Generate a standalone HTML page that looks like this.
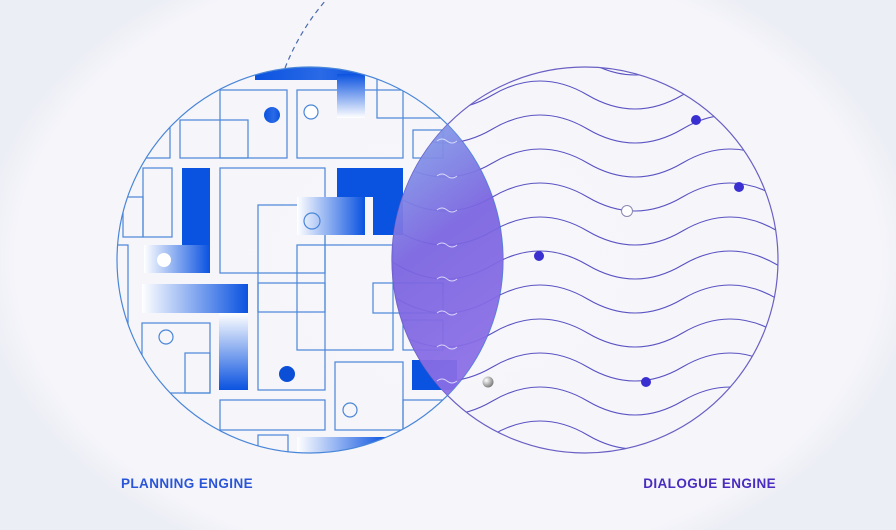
<!DOCTYPE html>
<html><head><meta charset="utf-8"><style>
html,body{margin:0;padding:0;}
body{width:896px;height:530px;overflow:hidden;background:radial-gradient(ellipse 470px 330px at 448px 260px,#f7f7fb 0%,#f5f5fa 92%,#eceef5 100%);font-family:"Liberation Sans",sans-serif;position:relative;}
.lbl{position:absolute;top:476px;font-weight:bold;font-size:13.5px;letter-spacing:0.4px;}
</style></head><body>
<svg width="896" height="530" style="position:absolute;left:0;top:0">
<defs>
<clipPath id="cl"><circle cx="310" cy="260" r="193"/></clipPath>
<clipPath id="cr"><circle cx="585" cy="260" r="193"/></clipPath>
<linearGradient id="gh" x1="0" y1="0" x2="1" y2="0"><stop offset="0" stop-color="#fff"/><stop offset="1" stop-color="#0a52e0"/></linearGradient>
<linearGradient id="gv" x1="0" y1="0" x2="0" y2="1"><stop offset="0" stop-color="#fff"/><stop offset="1" stop-color="#0a52e0"/></linearGradient>
<linearGradient id="gs" x1="0" y1="0" x2="1" y2="0"><stop offset="0" stop-color="#0a52e0"/><stop offset="0.6" stop-color="#2a6ae6"/><stop offset="1" stop-color="#0a52e0"/></linearGradient>
<linearGradient id="lens" x1="0" y1="0" x2="0.3" y2="1"><stop offset="0" stop-color="#86aaea"/><stop offset="0.5" stop-color="#7a64e0"/><stop offset="1" stop-color="#8a6ee6"/></linearGradient>
<radialGradient id="ball" cx="0.35" cy="0.35" r="0.7"><stop offset="0" stop-color="#fff"/><stop offset="1" stop-color="#777"/></radialGradient>
</defs>
<path d="M285 68 Q300 30 326 0" fill="none" stroke="#4a6ab0" stroke-width="1.2" stroke-dasharray="5 4"/>
<g clip-path="url(#cl)" fill="none" stroke="#4a86d8" stroke-width="1.2">
<rect x="180" y="120" width="68" height="38"/>
<rect x="220" y="90" width="67" height="68"/>
<rect x="297" y="90" width="106" height="68"/>
<rect x="377" y="77" width="66" height="41"/>
<rect x="220" y="168" width="105" height="105"/>
<rect x="258" y="205" width="67" height="107"/>
<rect x="297" y="245" width="96" height="105"/>
<rect x="258" y="283" width="67" height="107"/>
<rect x="142" y="323" width="68" height="70"/>
<rect x="185" y="353" width="25" height="40"/>
<rect x="220" y="400" width="105" height="30"/>
<rect x="335" y="362" width="68" height="68"/>
<rect x="143" y="168" width="29" height="69"/>
<rect x="123" y="197" width="20" height="40"/>
<rect x="373" y="283" width="70" height="30"/>
<rect x="413" y="130" width="30" height="28"/>
<rect x="108" y="128" width="62" height="30"/>
<rect x="100" y="410" width="80" height="40"/>
<rect x="258" y="435" width="30" height="30"/>
<rect x="403" y="320" width="40" height="30"/>
<rect x="403" y="400" width="60" height="30"/>
<rect x="108" y="245" width="20" height="80"/>
<g stroke="none">
<rect x="255" y="62" width="110" height="18" fill="url(#gs)"/>
<rect x="337" y="74" width="28" height="44" fill="url(#gv)" transform="rotate(180 351 96)"/>
<rect x="182" y="168" width="28" height="105" fill="#0a52e0"/>
<rect x="144" y="245" width="66" height="28" fill="url(#gh)"/>
<rect x="337" y="168" width="66" height="67" fill="#0a52e0"/>
<rect x="297" y="197" width="68" height="38" fill="url(#gh)"/>
<rect x="365" y="197" width="8" height="38" fill="#f5f5fa"/>
<rect x="142" y="284" width="106" height="29" fill="url(#gh)"/>
<rect x="219" y="313" width="29" height="77" fill="url(#gv)"/>
<rect x="412" y="360" width="45" height="30" fill="#0a52e0"/>
<rect x="297" y="437" width="90" height="20" fill="url(#gh)"/>
</g>
</g>
<circle cx="310" cy="260" r="193" fill="none" stroke="#4a86d8" stroke-width="1.2"/>
<circle cx="272" cy="115" r="8" fill="url(#gs)"/>
<circle cx="311" cy="112" r="7" fill="#fff" stroke="#4a86d8" stroke-width="1.2"/>
<circle cx="164" cy="260" r="7" fill="#fff"/>
<circle cx="312" cy="221" r="8" fill="none" stroke="#4a86d8" stroke-width="1.2"/>
<circle cx="166" cy="337" r="7" fill="none" stroke="#4a86d8" stroke-width="1.2"/>
<circle cx="287" cy="374" r="8" fill="#0a4fd6"/>
<circle cx="350" cy="410" r="7" fill="none" stroke="#4a86d8" stroke-width="1.2"/>
<g clip-path="url(#cr)" fill="none" stroke="#5a52c2" stroke-width="1.1">
<path d="M302.5 61 Q350 33 397.5 61 T492.5 61 T587.5 61 T682.5 61 T777.5 61 T872.5 61"/>
<path d="M302.5 95 Q350 67 397.5 95 T492.5 95 T587.5 95 T682.5 95 T777.5 95 T872.5 95"/>
<path d="M302.5 129 Q350 101 397.5 129 T492.5 129 T587.5 129 T682.5 129 T777.5 129 T872.5 129"/>
<path d="M302.5 163 Q350 135 397.5 163 T492.5 163 T587.5 163 T682.5 163 T777.5 163 T872.5 163"/>
<path d="M302.5 197 Q350 169 397.5 197 T492.5 197 T587.5 197 T682.5 197 T777.5 197 T872.5 197"/>
<path d="M302.5 231 Q350 203 397.5 231 T492.5 231 T587.5 231 T682.5 231 T777.5 231 T872.5 231"/>
<path d="M302.5 265 Q350 237 397.5 265 T492.5 265 T587.5 265 T682.5 265 T777.5 265 T872.5 265"/>
<path d="M302.5 299 Q350 271 397.5 299 T492.5 299 T587.5 299 T682.5 299 T777.5 299 T872.5 299"/>
<path d="M302.5 333 Q350 305 397.5 333 T492.5 333 T587.5 333 T682.5 333 T777.5 333 T872.5 333"/>
<path d="M302.5 367 Q350 339 397.5 367 T492.5 367 T587.5 367 T682.5 367 T777.5 367 T872.5 367"/>
<path d="M302.5 401 Q350 373 397.5 401 T492.5 401 T587.5 401 T682.5 401 T777.5 401 T872.5 401"/>
<path d="M302.5 435 Q350 407 397.5 435 T492.5 435 T587.5 435 T682.5 435 T777.5 435 T872.5 435"/>
</g>
<circle cx="585" cy="260" r="193" fill="none" stroke="#6a60c4" stroke-width="1.2"/>
<path d="M447.5 124.6 A193 193 0 0 1 447.5 395.4 A193 193 0 0 1 447.5 124.6 Z" fill="url(#lens)" opacity="0.94"/>
<g fill="none" stroke="#e8e8ff" stroke-width="1" opacity="0.85">
<path d="M437 141 q5 -4 10 0 t10 0"/><path d="M437 176 q5 -4 10 0 t10 0"/>
<path d="M437 210 q5 -4 10 0 t10 0"/><path d="M437 245 q5 -4 10 0 t10 0"/>
<path d="M437 279 q5 -4 10 0 t10 0"/><path d="M437 313 q5 -4 10 0 t10 0"/>
<path d="M437 347 q5 -4 10 0 t10 0"/><path d="M437 381 q5 -4 10 0 t10 0"/>
</g>
<circle cx="696" cy="120" r="5" fill="#3a2fd0"/>
<circle cx="739" cy="187" r="5" fill="#3a2fd0"/>
<circle cx="539" cy="256" r="5" fill="#3a2fd0"/>
<circle cx="646" cy="382" r="5" fill="#3a2fd0"/>
<circle cx="627" cy="211" r="5.5" fill="#fff" stroke="#8a86b0" stroke-width="1"/>
<circle cx="488" cy="382" r="5.5" fill="url(#ball)"/>
</svg>
<div class="lbl" style="left:121px;color:#2a55d8">PLANNING ENGINE</div>
<div class="lbl" style="right:120px;color:#4a2cc0">DIALOGUE ENGINE</div>
</body></html>
